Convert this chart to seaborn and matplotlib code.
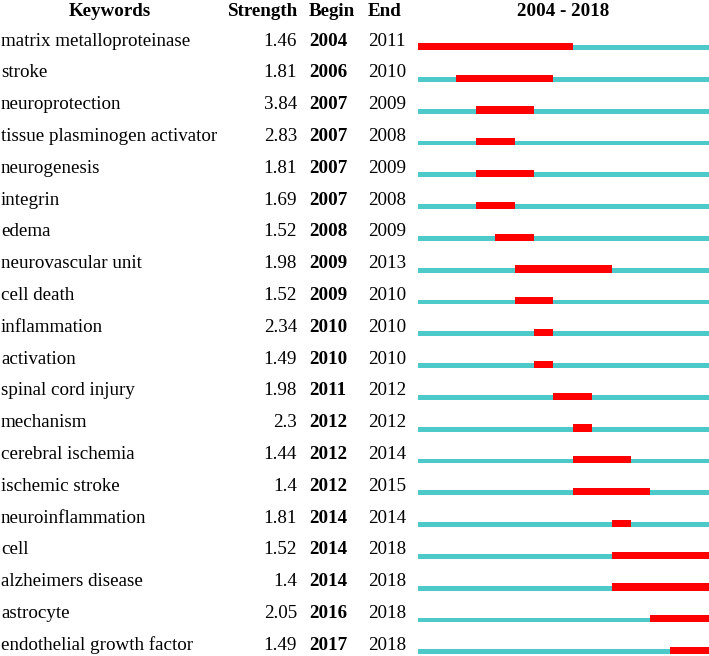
import numpy as np
import pandas as pd
import seaborn as sns
import matplotlib.pyplot as plt

keywords = ["matrix metalloproteinase", "stroke", "neuroprotection", "tissue plasminogen activator",
            "neurogenesis", "integrin", "edema", "neurovascular unit", "cell death", "inflammation",
            "activation", "spinal cord injury", "mechanism", "cerebral ischemia", "ischemic stroke",
            "neuroinflammation", "cell", "alzheimers disease", "astrocyte", "endothelial growth factor"]
strength = [1.46, 1.81, 3.84, 2.83, 1.81, 1.69, 1.52, 1.98, 1.52, 2.34,
            1.49, 1.98, 2.3, 1.44, 1.4, 1.81, 1.52, 1.4, 2.05, 1.49]
begin = [2004, 2006, 2007, 2007, 2007, 2007, 2008, 2009, 2009, 2010,
         2010, 2011, 2012, 2012, 2012, 2014, 2014, 2014, 2016, 2017]
end = [2011, 2010, 2009, 2008, 2009, 2008, 2009, 2013, 2010, 2010,
       2010, 2012, 2012, 2014, 2015, 2014, 2018, 2018, 2018, 2018]
year_start, year_end = 2004, 2018

df = pd.DataFrame({"keyword": keywords, "strength": strength, "begin": begin, "end": end})

sns.set_style("white")
plt.rcParams["font.family"] = ["Liberation Serif", "DejaVu Serif"]
plt.rcParams["text.color"] = "black"

W, H = 709, 656
fig = plt.figure(figsize=(W / 100, H / 100), dpi=100)
row_px = 31.8
top_px = 47.5
ylim = ((H - top_px) / row_px, -top_px / row_px)

ax = fig.add_axes([0, 0, 1, 1])
ax.set_xlim(0, W)
ax.set_ylim(*ylim)
ax.axis("off")

bar_left, bar_right = 417.5, 708.7
bax = fig.add_axes([bar_left / W, 0, (bar_right - bar_left) / W, 1])
bax.set_xlim(year_start, year_end + 1)
bax.set_ylim(*ylim)
bax.axis("off")

teal = "#4dc9c9"
red = "#ff0000"
fs = 13.7
base = 0.08
rows = np.arange(len(df))

# full period lines and burst bars
bax.barh(rows + base, year_end + 1 - year_start, left=year_start, height=-0.15,
         align="edge", color=teal, linewidth=0)
bax.barh(rows + base, df["end"] - df["begin"] + 1, left=df["begin"], height=-0.23,
         align="edge", color=red, linewidth=0)

# headers
hy = (12 - top_px) / row_px
ax.text(110, hy, "Keywords", ha="center", va="center", fontsize=fs, fontweight="bold")
ax.text(298, hy, "Strength", ha="right", va="center", fontsize=fs, fontweight="bold")
ax.text(309, hy, "Begin", ha="left", va="center", fontsize=fs, fontweight="bold")
ax.text(368, hy, "End", ha="left", va="center", fontsize=fs, fontweight="bold")
ax.text((bar_left + bar_right) / 2, hy, f"{year_start} - {year_end}", ha="center",
        va="center", fontsize=fs, fontweight="bold")

for i, r in df.iterrows():
    ty = i - 0.2
    ax.text(1, ty, r["keyword"], ha="left", va="center", fontsize=fs)
    ax.text(297, ty, f"{r['strength']:g}", ha="right", va="center", fontsize=fs)
    ax.text(309, ty, str(r["begin"]), ha="left", va="center", fontsize=fs, fontweight="bold")
    ax.text(368, ty, str(r["end"]), ha="left", va="center", fontsize=fs)

fig.savefig("out.png", dpi=100)
